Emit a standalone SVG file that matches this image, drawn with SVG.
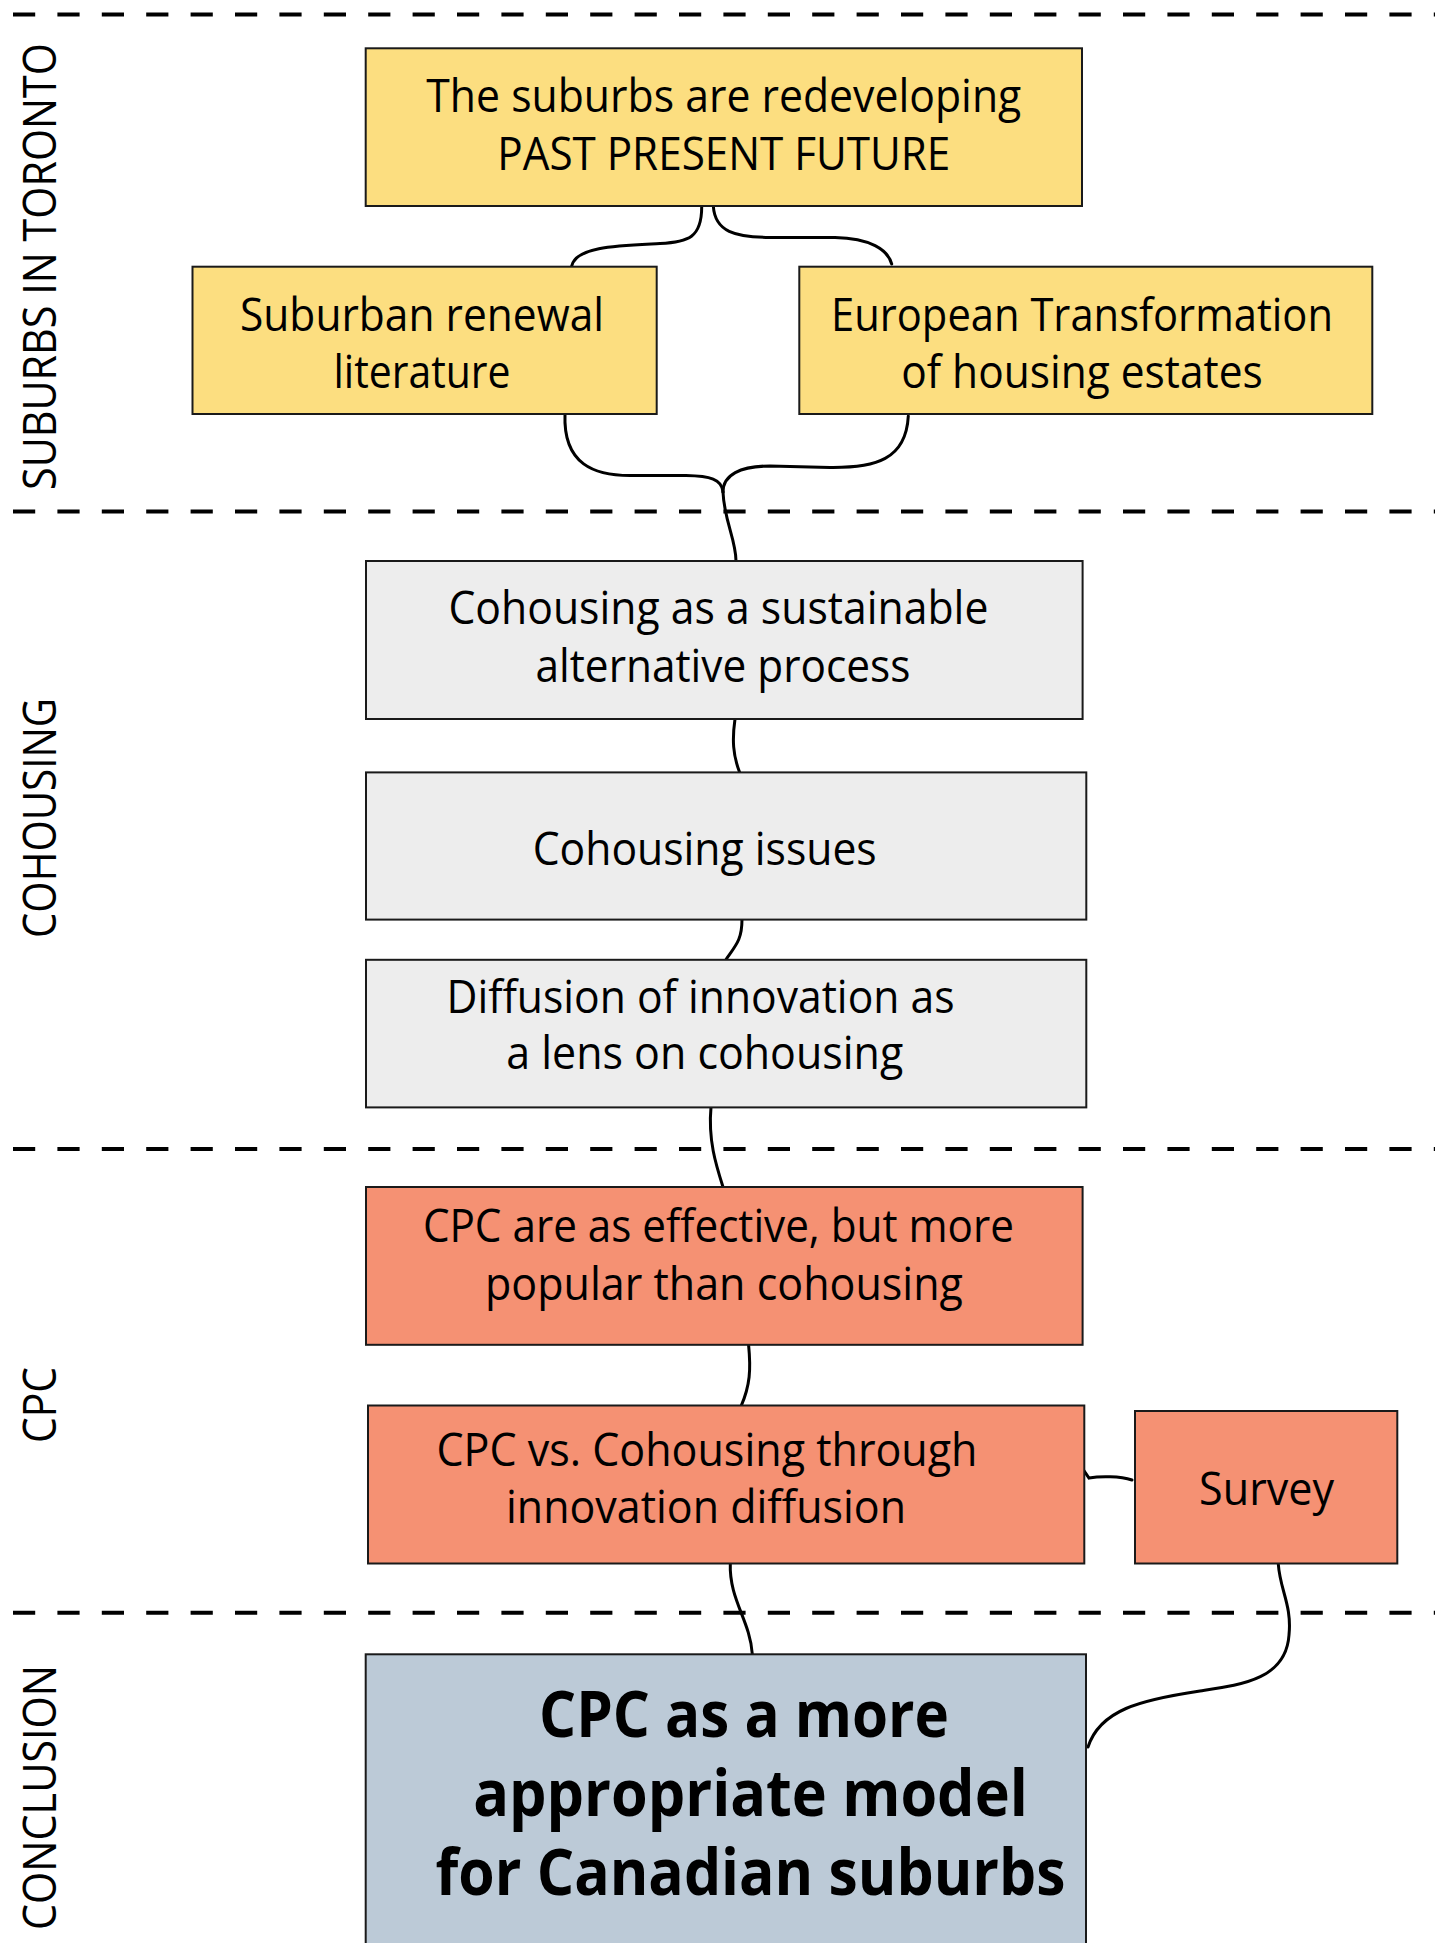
<svg xmlns="http://www.w3.org/2000/svg" width="1435" height="1943" viewBox="0 0 1435 1943">
<style>
.bg{fill:#ffffff}
.box{stroke:#1a1a1a;stroke-width:2}
.yel{fill:#FCDE80}
.gry{fill:#EDEDED}
.sal{fill:#F59173}
.blu{fill:#BCCAD7}
.t{font-family:"Open Sans","Noto Sans","Liberation Sans",sans-serif;font-size:46px;fill:#000;text-anchor:middle}
.b{font-family:"Open Sans","Noto Sans","Liberation Sans",sans-serif;font-size:64px;font-weight:700;fill:#000;text-anchor:middle}
.lab{font-family:"Open Sans","Noto Sans","Liberation Sans",sans-serif;font-size:45px;fill:#000;text-anchor:middle}
.dash{stroke:#000;stroke-width:4;stroke-dasharray:22.2 22.2;fill:none}
.c{stroke:#000;stroke-width:3;fill:none;stroke-linecap:round}
</style>
<rect class="bg" x="0" y="0" width="1435" height="1943"/>
<g id="separators">
<line class="dash" x1="13" y1="14.5" x2="1435" y2="14.5"/>
<line class="dash" x1="13" y1="511.5" x2="1435" y2="511.5"/>
<line class="dash" x1="13" y1="1149" x2="1435" y2="1149"/>
<line class="dash" x1="13" y1="1612.7" x2="1435" y2="1612.7"/>
</g>
<g id="section-labels">
<text class="lab" transform="translate(56,266.5) rotate(-90)" textLength="447" lengthAdjust="spacingAndGlyphs">SUBURBS IN TORONTO</text>
<text class="lab" transform="translate(56,818) rotate(-90)" textLength="240" lengthAdjust="spacingAndGlyphs">COHOUSING</text>
<text class="lab" transform="translate(56,1405) rotate(-90)" textLength="76" lengthAdjust="spacingAndGlyphs">CPC</text>
<text class="lab" transform="translate(56,1797.5) rotate(-90)" textLength="265" lengthAdjust="spacingAndGlyphs">CONCLUSION</text>
</g>
<g id="connectors">
<path class="c" d="M701.7,206 C702,238 688,242 660,243.5 C620,245.5 576,246 571.7,266"/>
<path class="c" d="M713.3,206 C715,232 735,237 770,237.5 L835,237.5 C870,238 888,250 891.7,264"/>
<path class="c" d="M565,414 C563,465 595,475.5 630,475.5 L686,475.5 C710,476 722,479 723,492"/>
<path class="c" d="M908.3,416 C906,460 875,468 830,467.5 L770,466 C740,466 723,475 723,492"/>
<path class="c" d="M723,492 C724,520 736,540 736,561"/>
<path class="c" d="M735,719 C732,740 733,755 739.5,772"/>
<path class="c" d="M742,919 C742,940 736,945 725.7,960"/>
<path class="c" d="M711,1107 C708,1140 716,1165 723,1187"/>
<path class="c" d="M748.6,1345 C751,1370 750,1385 741.3,1405.7"/>
<path class="c" d="M730.3,1563 C729,1600 750,1620 752.3,1654"/>
<path class="c" d="M1081.7,1467.3 L1089,1478 C1100,1476 1120,1476 1132,1480"/>
<path class="c" d="M1278.3,1564 C1280,1590 1292,1605 1289,1635 C1286,1680 1240,1685 1200,1691 C1140,1700 1100,1710 1088,1747"/>
</g>
<g id="node-redeveloping">
<rect class="box yel" x="365.7" y="48.3" width="716.3" height="157.7"/>
<text class="t" x="723.8" y="111.7" textLength="595" lengthAdjust="spacingAndGlyphs">The suburbs are redeveloping</text>
<text class="t" x="723.8" y="170" textLength="453" lengthAdjust="spacingAndGlyphs">PAST PRESENT FUTURE</text>
</g>
<g id="node-suburban-renewal">
<rect class="box yel" x="192.5" y="266.7" width="464.2" height="147.3"/>
<text class="t" x="422" y="331" textLength="364" lengthAdjust="spacingAndGlyphs">Suburban renewal</text>
<text class="t" x="422" y="388" textLength="177" lengthAdjust="spacingAndGlyphs">literature</text>
</g>
<g id="node-european">
<rect class="box yel" x="799.3" y="266.7" width="573" height="147.3"/>
<text class="t" x="1082" y="331" textLength="502" lengthAdjust="spacingAndGlyphs">European Transformation</text>
<text class="t" x="1082" y="388" textLength="361.5" lengthAdjust="spacingAndGlyphs">of housing estates</text>
</g>
<g id="node-cohousing-sustainable">
<rect class="box gry" x="366" y="561" width="716.6" height="158"/>
<text class="t" x="718.4" y="624" textLength="540" lengthAdjust="spacingAndGlyphs">Cohousing as a sustainable</text>
<text class="t" x="723" y="682" textLength="375" lengthAdjust="spacingAndGlyphs">alternative process</text>
</g>
<g id="node-cohousing-issues">
<rect class="box gry" x="366" y="772.4" width="720.3" height="147.2"/>
<text class="t" x="704.7" y="865" textLength="344" lengthAdjust="spacingAndGlyphs">Cohousing issues</text>
</g>
<g id="node-diffusion">
<rect class="box gry" x="366" y="959.8" width="720.3" height="147.6"/>
<text class="t" x="700.5" y="1012.6" textLength="508" lengthAdjust="spacingAndGlyphs">Diffusion of innovation as</text>
<text class="t" x="704.7" y="1068.5" textLength="397" lengthAdjust="spacingAndGlyphs">a lens on cohousing</text>
</g>
<g id="node-cpc-effective">
<rect class="box sal" x="366" y="1187" width="716.6" height="157.8"/>
<text class="t" x="718.4" y="1242" textLength="591" lengthAdjust="spacingAndGlyphs">CPC are as effective, but more</text>
<text class="t" x="724" y="1300" textLength="478" lengthAdjust="spacingAndGlyphs">popular than cohousing</text>
</g>
<g id="node-cpc-vs">
<rect class="box sal" x="368" y="1405.5" width="716.3" height="158"/>
<text class="t" x="707" y="1465.5" textLength="541" lengthAdjust="spacingAndGlyphs">CPC vs. Cohousing through</text>
<text class="t" x="706" y="1523" textLength="400" lengthAdjust="spacingAndGlyphs">innovation diffusion</text>
</g>
<g id="node-survey">
<rect class="box sal" x="1135" y="1411" width="262.3" height="152.5"/>
<text class="t" x="1266.6" y="1505" textLength="135" lengthAdjust="spacingAndGlyphs">Survey</text>
</g>
<g id="node-conclusion">
<rect class="box blu" x="365.7" y="1654.3" width="720.3" height="300"/>
<text class="b" x="744" y="1737" textLength="410" lengthAdjust="spacingAndGlyphs">CPC as a more</text>
<text class="b" x="750.5" y="1816" textLength="554.5" lengthAdjust="spacingAndGlyphs">appropriate model</text>
<text class="b" x="750.5" y="1895" textLength="630" lengthAdjust="spacingAndGlyphs">for Canadian suburbs</text>
</g>
</svg>
